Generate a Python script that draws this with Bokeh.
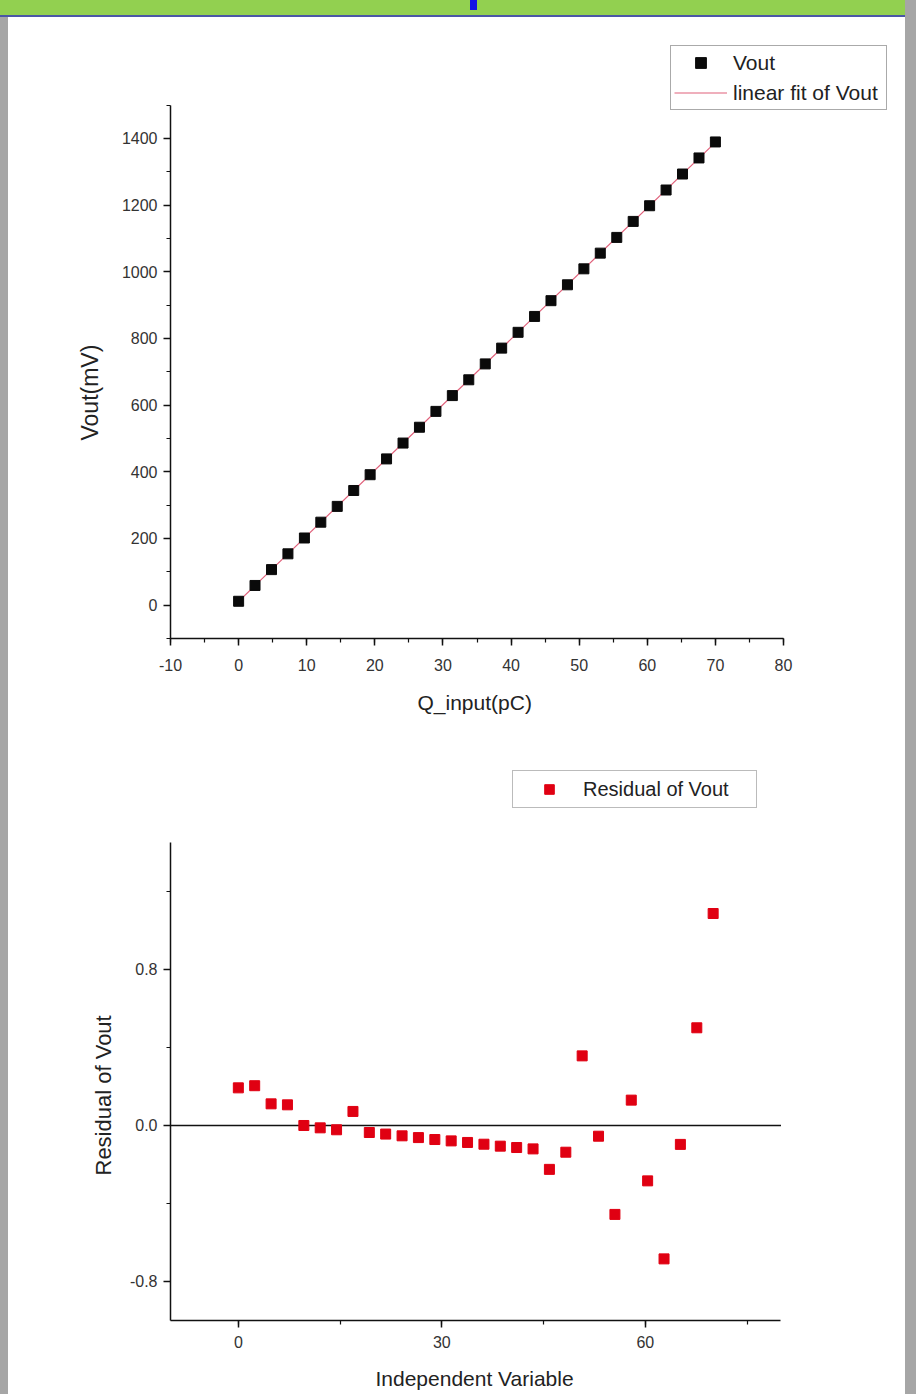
import numpy as np
from bokeh.plotting import figure
from bokeh.models import (Legend, LegendItem, SingleIntervalTicker, PrintfTickFormatter,
                          Range1d, Title)
from bokeh.layouts import column
from bokeh.embed import file_html
from bokeh.resources import INLINE

# ---------------- data ----------------
q_input = [0.00, 2.41, 4.83, 7.24, 9.66, 12.07, 14.48, 16.90, 19.31, 21.72,
           24.14, 26.55, 28.97, 31.38, 33.79, 36.21, 38.62, 41.03, 43.45, 45.86,
           48.28, 50.69, 53.10, 55.52, 57.93, 60.34, 62.76, 65.17, 67.59, 70.00]

vout = [11.69, 59.10, 106.62, 154.02, 201.51, 248.91, 296.30, 343.99, 391.29, 438.69,
        486.28, 533.68, 581.27, 628.66, 676.06, 723.65, 771.05, 818.45, 866.04, 913.34,
        961.03, 1008.93, 1055.92, 1103.12, 1151.11, 1198.11, 1245.31, 1293.29, 1341.50, 1389.49]

residual = [0.193, 0.204, 0.111, 0.106, 0.000, -0.012, -0.022, 0.072, -0.036, -0.044,
            -0.053, -0.062, -0.072, -0.079, -0.087, -0.096, -0.106, -0.113, -0.120, -0.225,
            -0.137, 0.357, -0.055, -0.456, 0.130, -0.284, -0.684, -0.097, 0.501, 1.087]

# axis extents drawn in the reference
top_x_bounds = (-10, 80)
top_y_bounds = (-100, 1500)
bot_x_bounds = (-10, 80)
bot_y_bounds = (-1.0, 1.45)

FONT = "Liberation Sans"
TICK_COLOR = "#333333"
LABEL_COLOR = "#222222"


def style_axes(p, tick_size="16px"):
    p.outline_line_color = None
    p.grid.visible = False
    p.background_fill_color = None
    p.border_fill_color = None
    for ax in p.axis:
        ax.axis_line_color = "#111111"
        ax.axis_line_width = 1.5
        ax.major_tick_line_color = "#111111"
        ax.major_tick_line_width = 1.5
        ax.minor_tick_line_color = "#111111"
        ax.minor_tick_line_width = 1.2
        ax.major_tick_in = 0
        ax.major_tick_out = 7
        ax.minor_tick_in = 0
        ax.minor_tick_out = 4
        ax.major_label_text_font = FONT
        ax.major_label_text_font_size = tick_size
        ax.major_label_text_color = TICK_COLOR


def axis_title(p, text, side, offset, standoff, size="21px"):
    t = Title(text=text, align="left", offset=offset, standoff=standoff,
              text_font=FONT, text_font_size=size, text_font_style="normal",
              text_color=LABEL_COLOR)
    p.add_layout(t, side)


# ---------------- top chart ----------------
p1 = figure(width=897, height=741, output_backend="svg", toolbar_location=None,
            x_range=Range1d(-10, 96.0), y_range=Range1d(-100, 1693.8),
            min_border_left=162, min_border_right=13, min_border_top=23, min_border_bottom=120)
style_axes(p1)
p1.xaxis.ticker = SingleIntervalTicker(interval=10, num_minor_ticks=2)
p1.xaxis.formatter = PrintfTickFormatter(format="%d")
p1.yaxis.ticker = SingleIntervalTicker(interval=200, num_minor_ticks=2)
p1.xaxis.bounds = top_x_bounds
p1.yaxis.bounds = top_y_bounds
p1.xaxis.major_label_standoff = 13
p1.yaxis.major_label_standoff = 6
axis_title(p1, "Q_input(pC)", "below", 247, 30, "21px")
axis_title(p1, "Vout(mV)", "left", 198, 32, "23px")

coef = np.polyfit(q_input, vout, 1)
fit_x = [min(q_input), max(q_input)]
fit_y = list(np.polyval(coef, fit_x))
fit_r = p1.line(fit_x, fit_y, line_color="#e0607a", line_width=1.2)
pts_r = p1.scatter(q_input, vout, marker="square", size=10,
                   fill_color="#0a0a0a", line_color="#0a0a0a")

leg1 = Legend(items=[LegendItem(label="Vout", renderers=[pts_r]),
                     LegendItem(label="linear fit of Vout", renderers=[fit_r])],
              location=(500, 528), padding=3, spacing=3, margin=0,
              glyph_width=53, glyph_height=27, label_height=27, label_width=150,
              label_standoff=6, label_text_font=FONT, label_text_font_size="21px",
              label_text_color=LABEL_COLOR, border_line_color="#555555",
              border_line_width=1.5, background_fill_color="white")
p1.add_layout(leg1)

# ---------------- bottom chart ----------------
p2 = figure(width=897, height=650, output_backend="svg", toolbar_location=None,
            x_range=Range1d(-10, 96.44), y_range=Range1d(-1.0, 1.846),
            min_border_left=162, min_border_right=13, min_border_top=7, min_border_bottom=88)
style_axes(p2)
p2.xaxis.ticker = SingleIntervalTicker(interval=30, num_minor_ticks=2)
p2.yaxis.ticker = SingleIntervalTicker(interval=0.8, num_minor_ticks=2)
p2.yaxis.formatter = PrintfTickFormatter(format="%.1f")
p2.xaxis.bounds = bot_x_bounds
p2.yaxis.bounds = bot_y_bounds
p2.xaxis.major_label_standoff = 8
p2.yaxis.major_label_standoff = 6
axis_title(p2, "Independent Variable", "below", 205, 28, "21px")
axis_title(p2, "Residual of Vout", "left", 145, 22, "22px")

# zero reference line across the x-axis extent
p2.line(list(bot_x_bounds), [0, 0], line_color="#111111", line_width=1.5)
res_r = p2.scatter(q_input, residual, marker="square", size=10,
                   fill_color="#e00012", line_color="#e00012")

leg2 = Legend(items=[LegendItem(label="Residual of Vout", renderers=[res_r])],
              location=(342, 512), padding=6, spacing=0, margin=0,
              glyph_width=60, glyph_height=24, label_height=24, label_width=167,
              label_standoff=4, label_text_font=FONT, label_text_font_size="20px",
              label_text_color=LABEL_COLOR, border_line_color="#777777",
              border_line_width=1.2, background_fill_color="white")
p2.add_layout(leg2)

layout = column(p1, p2, spacing=0)

html = file_html(layout, INLINE, title="Vout linear fit")
css = """<style>
html, body { overflow: hidden; }
body {
  margin: 0;
  padding: 17px 0 0 8px;
  background-color: #a6a6a6;
  background-image: linear-gradient(#1414e6, #1414e6),
    linear-gradient(#ffffff, #ffffff),
    linear-gradient(to bottom, #92d050 0px, #92d050 15px, #4a57a5 15px, #4a57a5 17px, #a6a6a6 17px, #a6a6a6 100%);
  background-size: 7px 10px, 897px 1400px, 905px 100%;
  background-position: 470px 0px, 8px 17px, 0px 0px;
  background-repeat: no-repeat;
}
</style>
</head>"""
html = html.replace("</head>", css, 1)
open("out.html", "w").write(html)
